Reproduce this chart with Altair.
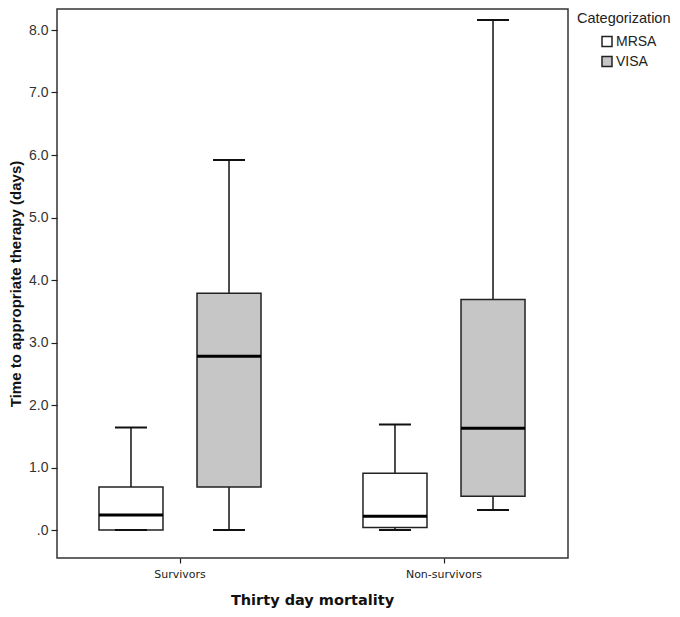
import altair as alt
import pandas as pd

mortality = ["Survivors", "Survivors", "Non-survivors", "Non-survivors"]
group = ["MRSA", "VISA", "MRSA", "VISA"]
whisker_low = [0.0, 0.0, 0.0, 0.32]
q1 = [0.0, 0.69, 0.04, 0.54]
median = [0.24, 2.78, 0.22, 1.63]
q3 = [0.69, 3.79, 0.91, 3.69]
whisker_high = [1.64, 5.92, 1.69, 8.16]

mortality_order = ["Survivors", "Non-survivors"]
group_order = ["MRSA", "VISA"]
y_ticks = [0, 1, 2, 3, 4, 5, 6, 7, 8]

df = pd.DataFrame({
    "mortality": mortality, "group": group, "lo": whisker_low, "q1": q1,
    "med": median, "q3": q3, "hi": whisker_high,
})

x = alt.X("mortality:N", sort=mortality_order,
          scale=alt.Scale(range=[-9, 519], paddingInner=0, paddingOuter=0),
          axis=alt.Axis(title="Thirty day mortality", labelAngle=0, domain=False,
                        tickSize=5, tickColor="#222", tickWidth=1.2, labelPadding=5,
                        labelFont="DejaVu Sans", labelFontSize=11, labelColor="#222",
                        titleFont="DejaVu Sans", titleFontSize=14.5, titleFontWeight="bold",
                        titleColor="#111", titlePadding=14))
xo = alt.XOffset("group:N", sort=group_order,
                 scale=alt.Scale(domain=group_order, paddingInner=0.347, paddingOuter=0.52))
yscale = alt.Scale(domain=[-0.448, 8.336], nice=False, zero=False)
yaxis = alt.Axis(title="Time to appropriate therapy (days)", values=y_ticks,
                 labelExpr="datum.value == 0 ? '.0' : format(datum.value, '.1f')",
                 grid=False, domain=False, tickSize=6, tickColor="#222", tickWidth=1.2,
                 labelPadding=3,
                 labelFont="Liberation Sans", labelFontSize=14, labelColor="#333",
                 titleFont="Liberation Sans", titleFontSize=15, titleFontWeight="bold",
                 titleColor="#111", titlePadding=5)

base = alt.Chart(df)

whisk_up = base.mark_rule(color="#111", strokeWidth=1.5).encode(
    x=x, xOffset=xo, y=alt.Y("q3:Q", scale=yscale, axis=yaxis), y2="hi:Q")
whisk_dn = base.mark_rule(color="#111", strokeWidth=1.5).encode(
    x=x, xOffset=xo, y=alt.Y("lo:Q", scale=yscale, axis=yaxis), y2="q1:Q")
box = base.mark_bar(stroke="#222", strokeWidth=1.5).encode(
    x=x, xOffset=xo, y=alt.Y("q1:Q", scale=yscale, axis=yaxis), y2="q3:Q",
    fill=alt.Fill("group:N", sort=group_order,
                  scale=alt.Scale(domain=group_order, range=["#ffffff", "#c6c6c6"]),
                  legend=alt.Legend(title="Categorization", orient="none",
                                    legendX=520, legendY=3, padding=0,
                                    titleFont="Liberation Sans", titleFontSize=14.5,
                                    titleFontWeight="normal", titleColor="#222",
                                    titlePadding=8, symbolOffset=23,
                                    symbolType="square", symbolSize=100,
                                    symbolStrokeColor="#222", symbolStrokeWidth=1.5,
                                    labelFont="Liberation Sans", labelFontSize=14,
                                    labelColor="#222", labelOffset=2, rowPadding=4)))
med = base.mark_tick(color="#000", thickness=3, size=64, opacity=1).encode(
    x=x, xOffset=xo, y=alt.Y("med:Q", scale=yscale, axis=yaxis))
cap_hi = base.mark_tick(color="#111", thickness=2, size=32, opacity=1).encode(
    x=x, xOffset=xo, y=alt.Y("hi:Q", scale=yscale, axis=yaxis))
cap_lo = base.mark_tick(color="#111", thickness=2, size=32, opacity=1).encode(
    x=x, xOffset=xo, y=alt.Y("lo:Q", scale=yscale, axis=yaxis))

chart = alt.layer(whisk_up, whisk_dn, box, med, cap_hi, cap_lo).properties(
    width=511, height=549,
    autosize=alt.AutoSizeParams(type="none"),
    padding={"left": 49, "top": 1, "right": 104, "bottom": 51},
    background="white",
).configure_view(stroke="#333", strokeWidth=1.5)

chart.save("out.html", embed_options={"renderer": "svg", "actions": False})
